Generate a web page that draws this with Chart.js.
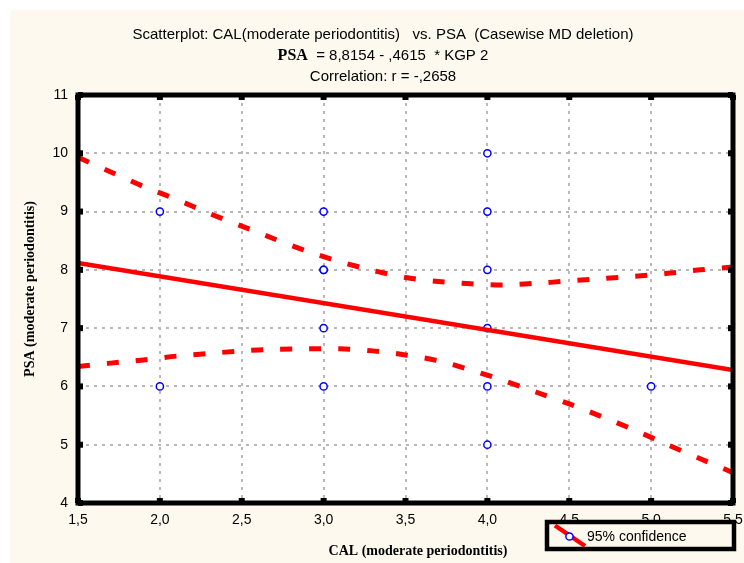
<!DOCTYPE html>
<html><head><meta charset="utf-8">
<script src="https://cdn.jsdelivr.net/npm/chart.js@4.4.0/dist/chart.umd.min.js"></script>
<style>html,body{margin:0;padding:0;background:#fff;overflow:hidden}canvas{display:block}</style>
</head><body>
<canvas id="c" width="744" height="563" style="width:744px;height:563px"></canvas>
<script>
// ---- text ----
const titleLine1 = 'Scatterplot: CAL(moderate periodontitis)   vs. PSA  (Casewise MD deletion)';
const titleLine2Bold = 'PSA';
const titleLine2Rest = '  = 8,8154 - ,4615  * KGP 2';
const titleLine3 = 'Correlation: r = -,2658';
const xAxisTitle = 'CAL (moderate periodontitis)';
const yAxisTitle = 'PSA (moderate periodontitis)';
const legendLabel = '95% confidence';

// ---- ticks ----
const xTicks = [1.5, 2.0, 2.5, 3.0, 3.5, 4.0, 4.5, 5.0, 5.5];
const xTickLabels = ['1,5', '2,0', '2,5', '3,0', '3,5', '4,0', '4,5', '5,0', '5,5'];
const yTicks = [4, 5, 6, 7, 8, 9, 10, 11];
const yTickLabels = ['4', '5', '6', '7', '8', '9', '10', '11'];

// ---- data ----
const pointsX = [2, 2, 3, 3, 3, 3, 3, 4, 4, 4, 4, 4, 4, 5];
const pointsY = [9, 6, 9, 8, 8, 7, 6, 10, 9, 8, 7, 6, 5, 6];

const fitX = [1.5, 5.5];
const fitY = [8.12, 6.28];

const bandX  = [1.5, 1.7, 1.9, 2.1, 2.3, 2.5, 2.7, 2.9, 3.1, 3.3, 3.5, 3.7, 3.9, 4.1, 4.3, 4.5, 4.7, 4.9, 5.1, 5.3, 5.5];
const upperY = [9.93, 9.68, 9.43, 9.21, 8.97, 8.75, 8.53, 8.32, 8.14, 7.99, 7.87, 7.80, 7.76, 7.74, 7.77, 7.81, 7.85, 7.89, 7.94, 8.00, 8.05];
const lowerY = [6.34, 6.40, 6.455, 6.52, 6.565, 6.61, 6.635, 6.645, 6.645, 6.61, 6.54, 6.44, 6.28, 6.10, 5.90, 5.70, 5.48, 5.25, 5.00, 4.76, 4.52];

// ---- colours ----
const CREAM = '#fdf9ee';
const RED = '#ff0000';
const BLUE = '#0000ff';

const sans = '"Liberation Sans", Arial, sans-serif';
const serif = '"Liberation Serif", "Times New Roman", serif';

const xy = (xs, ys) => xs.map((x, i) => ({x: x, y: ys[i]}));

const bgPlugin = {
  id: 'bg',
  beforeDraw(chart) {
    const c = chart.ctx, a = chart.chartArea;
    c.save();
    c.fillStyle = '#ffffff';
    c.fillRect(0, 0, chart.width, chart.height);
    c.fillStyle = CREAM;
    c.fillRect(10, 10, chart.width - 10, chart.height - 10);
    c.fillStyle = '#ffffff';
    c.fillRect(a.left, a.top, a.right - a.left, a.bottom - a.top);
    c.restore();
  }
};

const framePlugin = {
  id: 'frame',
  afterDatasetsDraw(chart) {
    const c = chart.ctx, a = chart.chartArea;
    const xs = chart.scales.x, ys = chart.scales.y;
    c.save();
    c.strokeStyle = '#000';
    c.lineWidth = 5;
    c.strokeRect(a.left, a.top, a.right - a.left, a.bottom - a.top);
    c.fillStyle = '#000';
    xTicks.forEach(v => {
      const px = xs.getPixelForValue(v);
      c.fillRect(px - 3, a.top, 6, 5);
      c.fillRect(px - 3, a.bottom - 5, 6, 5);
    });
    yTicks.forEach(v => {
      const py = ys.getPixelForValue(v);
      c.fillRect(a.left, py - 3, 5, 6);
      c.fillRect(a.right - 5, py - 3, 5, 6);
    });
    c.restore();
  },
  afterDraw(chart) {
    const c = chart.ctx;
    c.save();
    c.fillStyle = '#000';
    c.textBaseline = 'alphabetic';
    // titles
    const cx = 383;
    c.font = '15px ' + sans;
    c.textAlign = 'center';
    c.fillText(titleLine1, cx, 39);
    c.font = 'bold 16px ' + serif;
    const wb = c.measureText(titleLine2Bold).width;
    c.font = '15px ' + sans;
    const wr = c.measureText(titleLine2Rest).width;
    const x0 = cx - (wb + wr) / 2;
    c.textAlign = 'left';
    c.font = 'bold 16px ' + serif;
    c.fillText(titleLine2Bold, x0, 60);
    c.font = '15px ' + sans;
    c.fillText(titleLine2Rest, x0 + wb, 60);
    c.textAlign = 'center';
    c.fillText(titleLine3, cx, 81);
    // axis titles
    c.font = 'bold 14px ' + serif;
    c.textBaseline = 'middle';
    c.fillText(xAxisTitle, 418, 551);
    c.save();
    c.translate(30, 289);
    c.rotate(-Math.PI / 2);
    c.fillText(yAxisTitle, 0, 0);
    c.restore();
    // legend
    const lx = 547, ly = 522, lw = 187, lh = 27;
    c.fillStyle = CREAM;
    c.fillRect(lx, ly, lw, lh);
    c.strokeStyle = '#000';
    c.lineWidth = 4.5;
    c.strokeRect(lx, ly, lw, lh);
    c.strokeStyle = RED;
    c.lineWidth = 4.5;
    c.beginPath();
    c.moveTo(555, 525.5);
    c.lineTo(585, 546);
    c.stroke();
    c.fillStyle = '#fff';
    c.strokeStyle = BLUE;
    c.lineWidth = 1.5;
    c.beginPath();
    c.arc(569.5, 536.5, 3.6, 0, Math.PI * 2);
    c.fill();
    c.stroke();
    c.fillStyle = '#000';
    c.font = '14px ' + sans;
    c.textAlign = 'left';
    c.textBaseline = 'middle';
    c.fillText(legendLabel, 587, 537);
    c.restore();
  }
};

new Chart(document.getElementById('c'), {
  type: 'scatter',
  data: {
    datasets: [
      {
        label: 'Upper 95%', type: 'line', data: xy(bandX, upperY),
        borderColor: RED, borderWidth: 5, borderDash: [12, 17], borderCapStyle: 'butt',
        pointRadius: 0, fill: false, tension: 0.3, order: 1
      },
      {
        label: 'Lower 95%', type: 'line', data: xy(bandX, lowerY),
        borderColor: RED, borderWidth: 5, borderDash: [12, 17], borderCapStyle: 'butt',
        pointRadius: 0, fill: false, tension: 0.3, order: 1
      },
      {
        label: 'Fit', type: 'line', data: xy(fitX, fitY),
        borderColor: RED, borderWidth: 4.5, pointRadius: 0, fill: false, order: 1
      },
      {
        label: 'PSA', data: xy(pointsX, pointsY), showLine: false,
        pointStyle: 'circle', pointRadius: 3.6, pointBorderWidth: 1.5,
        borderColor: BLUE, backgroundColor: '#ffffff', order: 3
      }
    ]
  },
  options: {
    responsive: false,
    animation: false,
    devicePixelRatio: 1,
    layout: {padding: {left: 0, top: 95, right: 11, bottom: 0}},
    plugins: {legend: {display: false}, tooltip: {enabled: false}, title: {display: false}},
    scales: {
      x: {
        type: 'linear', min: 1.5, max: 5.5,
        afterBuildTicks: s => { s.ticks = xTicks.map(v => ({value: v})); },
        afterFit: s => { s.height = 60; s.paddingLeft = 0; s.paddingRight = 0; },
        ticks: {
          callback: (v, i) => xTickLabels[i], autoSkip: false, maxRotation: 0,
          font: {family: sans, size: 14}, color: '#000', padding: 9
        },
        grid: {color: '#b8b8b8', lineWidth: 2, drawTicks: false, tickLength: 0},
        border: {display: false, dash: [3, 5]}
      },
      y: {
        type: 'linear', min: 4, max: 11,
        afterBuildTicks: s => { s.ticks = yTicks.map(v => ({value: v})); },
        afterFit: s => { s.width = 78; s.paddingTop = 0; s.paddingBottom = 0; },
        ticks: {
          callback: (v, i) => yTickLabels[i], autoSkip: false,
          font: {family: sans, size: 14}, color: '#000', padding: 10
        },
        grid: {color: '#b8b8b8', lineWidth: 2, drawTicks: false, tickLength: 0},
        border: {display: false, dash: [3, 5]}
      }
    }
  },
  plugins: [bgPlugin, framePlugin]
});
</script>
</body></html>
